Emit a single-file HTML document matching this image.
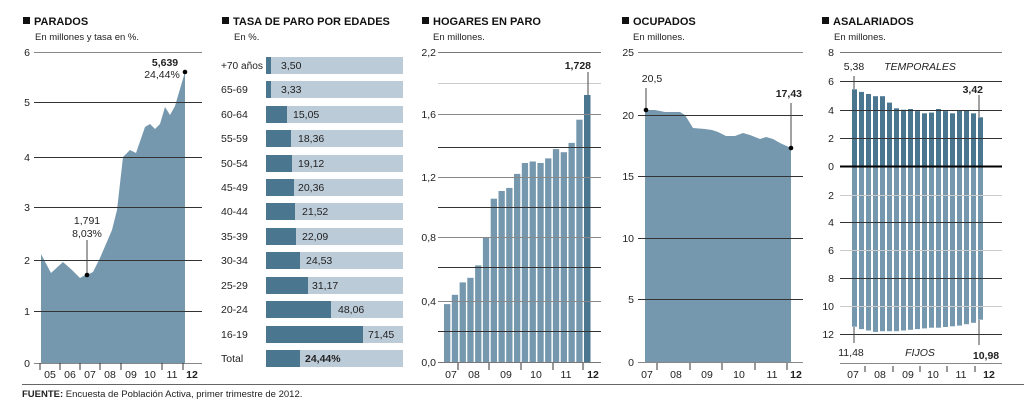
<!DOCTYPE html>
<html><head><meta charset="utf-8"><style>
html,body{margin:0;padding:0;background:#fff;}
svg{display:block;font-family:"Liberation Sans",sans-serif;}
.t{font-weight:bold;font-size:11px;fill:#111}
.s{font-size:9.5px;fill:#222}
.a{font-size:10.5px;fill:#222}
.b{font-weight:bold;}
</style></head><body>
<svg width="1024" height="403" viewBox="0 0 1024 403">
<!-- PARADOS -->
<rect x="23" y="17" width="7" height="7" fill="#111"/>
<text x="34" y="25" class="t">PARADOS</text>
<text x="35" y="40" class="s">En millones y tasa en %.</text>
<polygon fill="#7598ae" points="41,363 41,254 51,273 63,262 72,270 80,278 90,272 87,275 93,272 100,258 112,230 117,210 123,157 130,150 136,153 145,127 150,124 155,129 160,124 165,107 170,115 175,106 185,72 185,363"/>
<g stroke="#333" stroke-width="1">
<line x1="34" y1="52.5" x2="202" y2="52.5" stroke="#888"/>
<line x1="34" y1="102.5" x2="202" y2="102.5"/>
<line x1="34" y1="157.5" x2="202" y2="157.5"/>
<line x1="34" y1="207.5" x2="202" y2="207.5"/>
<line x1="34" y1="260.5" x2="202" y2="260.5"/>
<line x1="34" y1="311.5" x2="202" y2="311.5"/>
<line x1="34" y1="363.5" x2="202" y2="363.5" stroke="#888"/>
</g>
<g class="a" text-anchor="end"><text x="30" y="56">6</text><text x="30" y="106">5</text><text x="30" y="161">4</text><text x="30" y="211">3</text><text x="30" y="264">2</text><text x="30" y="315">1</text><text x="30" y="367">0</text></g>
<g stroke="#333"><line x1="40" y1="363" x2="40" y2="370"/><line x1="60" y1="363" x2="60" y2="370"/><line x1="80" y1="363" x2="80" y2="370"/><line x1="100" y1="363" x2="100" y2="370"/><line x1="121" y1="363" x2="121" y2="370"/><line x1="162" y1="363" x2="162" y2="370"/><line x1="183" y1="363" x2="183" y2="370"/></g>
<g class="a" text-anchor="middle"><text x="50" y="378">05</text><text x="70" y="378">06</text><text x="90" y="378">07</text><text x="110" y="378">08</text><text x="131" y="378">09</text><text x="150" y="378">10</text><text x="172" y="378">11</text><text x="192" y="378" class="b">12</text></g>
<line x1="87" y1="240" x2="87" y2="274" stroke="#444"/>
<circle cx="87" cy="275" r="2.3" fill="#000"/>
<circle cx="185" cy="72" r="2.3" fill="#000"/>
<text x="87" y="224" class="a" text-anchor="middle">1,791</text>
<text x="87" y="237" class="a" text-anchor="middle">8,03%</text>
<text x="165" y="66" class="a b" text-anchor="middle" font-size="11.5">5,639</text>
<text x="162" y="78" class="a" text-anchor="middle">24,44%</text>

<!-- TASA -->
<rect x="222" y="17" width="7" height="7" fill="#111"/>
<text x="233" y="25" class="t">TASA DE PARO POR EDADES</text>
<text x="234" y="40" class="s">En %.</text>
<g fill="#bccbd8">
<rect x="266" y="57" width="137" height="17"/><rect x="266" y="81" width="137" height="17"/><rect x="266" y="106" width="137" height="17"/><rect x="266" y="130" width="137" height="17"/><rect x="266" y="155" width="137" height="17"/><rect x="266" y="179" width="137" height="17"/><rect x="266" y="203" width="137" height="17"/><rect x="266" y="228" width="137" height="17"/><rect x="266" y="252" width="137" height="17"/><rect x="266" y="277" width="137" height="17"/><rect x="266" y="301" width="137" height="17"/><rect x="266" y="326" width="137" height="17"/><rect x="266" y="350" width="137" height="17"/>
</g>
<g fill="#4a7690">
<rect x="266" y="57" width="5" height="17"/><rect x="266" y="81" width="5" height="17"/><rect x="266" y="106" width="21" height="17"/><rect x="266" y="130" width="25" height="17"/><rect x="266" y="155" width="26" height="17"/><rect x="266" y="179" width="28" height="17"/><rect x="266" y="203" width="29" height="17"/><rect x="266" y="228" width="30" height="17"/><rect x="266" y="252" width="34" height="17"/><rect x="266" y="277" width="42" height="17"/><rect x="266" y="301" width="65" height="17"/><rect x="266" y="326" width="97" height="17"/><rect x="266" y="350" width="34" height="17"/>
</g>
<g class="a">
<text x="221" y="69" font-size="10" textLength="42" lengthAdjust="spacingAndGlyphs">+70 años</text><text x="221" y="93">65-69</text><text x="221" y="118">60-64</text><text x="221" y="142">55-59</text><text x="221" y="167">50-54</text><text x="221" y="191">45-49</text><text x="221" y="215">40-44</text><text x="221" y="240">35-39</text><text x="221" y="264">30-34</text><text x="221" y="289">25-29</text><text x="221" y="313">20-24</text><text x="221" y="338">16-19</text><text x="221" y="362">Total</text>
<text x="281" y="69">3,50</text><text x="281" y="93">3,33</text><text x="293" y="118">15,05</text><text x="298" y="142">18,36</text><text x="298" y="167">19,12</text><text x="298" y="191">20,36</text><text x="302" y="215">21,52</text><text x="302" y="240">22,09</text><text x="306" y="264">24,53</text><text x="312" y="289">31,17</text><text x="338" y="313">48,06</text><text x="368" y="338">71,45</text><text x="305" y="362" class="b">24,44%</text>
</g>

<!-- HOGARES -->
<rect x="422" y="17" width="7" height="7" fill="#111"/>
<text x="433" y="25" class="t">HOGARES EN PARO</text>
<text x="433" y="40" class="s">En millones.</text>
<g fill="#7598ae">
<rect x="444" y="304.1" width="6.3" height="58.9"/><rect x="451.8" y="294.8" width="6.3" height="68.2"/><rect x="459.6" y="282.4" width="6.3" height="80.6"/><rect x="467.3" y="277.8" width="6.3" height="85.2"/><rect x="475.1" y="265.4" width="6.3" height="97.6"/><rect x="482.9" y="237.5" width="6.3" height="125.5"/><rect x="490.7" y="198.7" width="6.3" height="164.3"/><rect x="498.5" y="191" width="6.3" height="172"/><rect x="506.2" y="187.9" width="6.3" height="175.1"/><rect x="514" y="173.9" width="6.3" height="189.1"/><rect x="521.8" y="163" width="6.3" height="200"/><rect x="529.6" y="161.5" width="6.3" height="201.5"/><rect x="537.4" y="163" width="6.3" height="200"/><rect x="545.1" y="158.4" width="6.3" height="204.6"/><rect x="552.9" y="149.1" width="6.3" height="213.9"/><rect x="560.7" y="152.2" width="6.3" height="210.8"/><rect x="568.5" y="142.9" width="6.3" height="220.1"/><rect x="576.3" y="119.7" width="6.3" height="243.3"/>
<rect x="584" y="95" width="6.5" height="268" fill="#4a7690"/>
</g>
<g stroke-width="1">
<line x1="438" y1="52.5" x2="601" y2="52.5" stroke="#777"/>
<line x1="438" y1="83.5" x2="601" y2="83.5" stroke="#ccc"/>
<line x1="438" y1="114.5" x2="601" y2="114.5" stroke="#888"/>
<line x1="438" y1="147.5" x2="601" y2="147.5" stroke="#333"/>
<line x1="438" y1="177.5" x2="601" y2="177.5" stroke="#888"/>
<line x1="438" y1="207.5" x2="601" y2="207.5" stroke="#333"/>
<line x1="438" y1="237.5" x2="601" y2="237.5" stroke="#888"/>
<line x1="438" y1="267.5" x2="601" y2="267.5" stroke="#333"/>
<line x1="438" y1="301.5" x2="601" y2="301.5" stroke="#888"/>
<line x1="438" y1="331.5" x2="601" y2="331.5" stroke="#333"/>
<line x1="438" y1="362.5" x2="601" y2="362.5" stroke="#777"/>
</g>
<line x1="588" y1="72" x2="588" y2="95" stroke="#444"/>
<g class="a" text-anchor="end"><text x="436" y="56">2,2</text><text x="436" y="118">1,6</text><text x="436" y="181">1,2</text><text x="436" y="241">0,8</text><text x="436" y="305">0,4</text><text x="436" y="366">0,0</text></g>
<g stroke="#333"><line x1="458" y1="363" x2="458" y2="370"/><line x1="489" y1="363" x2="489" y2="370"/><line x1="521" y1="363" x2="521" y2="370"/><line x1="553" y1="363" x2="553" y2="370"/><line x1="583" y1="363" x2="583" y2="370"/></g>
<g class="a" text-anchor="middle"><text x="451" y="378">07</text><text x="474" y="378">08</text><text x="506" y="378">09</text><text x="536" y="378">10</text><text x="566" y="378">11</text><text x="593" y="378" class="b">12</text></g>
<text x="591" y="69" class="a b" text-anchor="end" font-size="11.5">1,728</text>

<!-- OCUPADOS -->
<rect x="622" y="17" width="7" height="7" fill="#111"/>
<text x="633" y="25" class="t">OCUPADOS</text>
<text x="633" y="40" class="s">En millones.</text>
<polygon fill="#7598ae" points="645,363 645,110 655,110 665,112 678,112 680,112 685,115 693,128 705,129 712,130 718,132 726,136 735,136 743,133 750,135 760,139 766,137 773,139 780,143 791,148 791,363"/>
<g stroke="#333">
<line x1="638" y1="52.5" x2="803" y2="52.5" stroke="#888"/>
<line x1="638" y1="115.5" x2="803" y2="115.5"/>
<line x1="638" y1="176.5" x2="803" y2="176.5"/>
<line x1="638" y1="238.5" x2="803" y2="238.5"/>
<line x1="638" y1="299.5" x2="803" y2="299.5"/>
<line x1="638" y1="362.5" x2="803" y2="362.5" stroke="#888"/>
</g>
<g class="a" text-anchor="end"><text x="634" y="56">25</text><text x="634" y="119">20</text><text x="634" y="180">15</text><text x="634" y="242">10</text><text x="634" y="303">5</text><text x="634" y="366">0</text></g>
<g stroke="#333"><line x1="657" y1="363" x2="657" y2="370"/><line x1="690" y1="363" x2="690" y2="370"/><line x1="722" y1="363" x2="722" y2="370"/><line x1="755" y1="363" x2="755" y2="370"/><line x1="787" y1="363" x2="787" y2="370"/></g>
<g class="a" text-anchor="middle"><text x="647" y="378">07</text><text x="676" y="378">08</text><text x="707" y="378">09</text><text x="739" y="378">10</text><text x="772" y="378">11</text><text x="796" y="378" class="b">12</text></g>
<line x1="646" y1="88" x2="646" y2="109" stroke="#444"/>
<line x1="791" y1="103" x2="791" y2="147" stroke="#444"/>
<circle cx="646" cy="110" r="2.3" fill="#000"/>
<circle cx="791" cy="148" r="2.3" fill="#000"/>
<text x="652" y="82" class="a" text-anchor="middle">20,5</text>
<text x="802" y="97" class="a b" text-anchor="end" font-size="11.5">17,43</text>

<!-- ASALARIADOS -->
<rect x="822" y="17" width="7" height="7" fill="#111"/>
<text x="833" y="25" class="t">ASALARIADOS</text>
<text x="834" y="40" class="s">En millones.</text>
<g fill="#4a7690">
<rect x="852" y="89.3" width="5" height="76.7"/><rect x="859" y="91.9" width="5" height="74.1"/><rect x="866" y="94" width="5" height="72"/><rect x="873" y="96.2" width="5" height="69.8"/><rect x="880" y="96.2" width="5" height="69.8"/><rect x="887" y="102.6" width="5" height="63.4"/><rect x="894" y="108.3" width="5" height="57.7"/><rect x="901" y="109.7" width="5" height="56.3"/><rect x="908" y="109" width="5" height="57"/><rect x="915" y="111.1" width="5" height="54.9"/><rect x="922" y="113.3" width="5" height="52.7"/><rect x="929" y="112.6" width="5" height="53.4"/><rect x="936" y="109" width="5" height="57"/><rect x="943" y="111.1" width="5" height="54.9"/><rect x="950" y="113.3" width="5" height="52.7"/><rect x="957" y="110.4" width="5" height="55.6"/><rect x="964" y="110.4" width="5" height="55.6"/><rect x="971" y="113.3" width="5" height="52.7"/><rect x="978" y="117.3" width="5" height="48.7"/>
</g>
<g fill="#7598ae">
<rect x="852" y="166" width="5" height="160.7"/><rect x="859" y="166" width="5" height="163.1"/><rect x="866" y="166" width="5" height="164.5"/><rect x="873" y="166" width="5" height="165.9"/><rect x="880" y="166" width="5" height="165.2"/><rect x="887" y="166" width="5" height="165.2"/><rect x="894" y="166" width="5" height="165.2"/><rect x="901" y="166" width="5" height="164.5"/><rect x="908" y="166" width="5" height="163.8"/><rect x="915" y="166" width="5" height="163.1"/><rect x="922" y="166" width="5" height="162.4"/><rect x="929" y="166" width="5" height="161.7"/><rect x="936" y="166" width="5" height="161.7"/><rect x="943" y="166" width="5" height="161"/><rect x="950" y="166" width="5" height="160.3"/><rect x="957" y="166" width="5" height="159.6"/><rect x="964" y="166" width="5" height="158.2"/><rect x="971" y="166" width="5" height="156.8"/><rect x="978" y="166" width="5" height="153.7"/>
</g>
<g stroke="#333">
<line x1="840" y1="52.5" x2="1002" y2="52.5" stroke="#777"/>
<line x1="840" y1="81.5" x2="1002" y2="81.5"/>
<line x1="840" y1="110.5" x2="1002" y2="110.5"/>
<line x1="840" y1="138.5" x2="1002" y2="138.5"/>
<line x1="840" y1="195.5" x2="1002" y2="195.5" stroke="#ccc"/>
<line x1="840" y1="222.5" x2="1002" y2="222.5"/>
<line x1="840" y1="250.5" x2="1002" y2="250.5" stroke="#ccc"/>
<line x1="840" y1="278.5" x2="1002" y2="278.5"/>
<line x1="840" y1="306.5" x2="1002" y2="306.5" stroke="#ccc"/>
<line x1="840" y1="334.5" x2="1002" y2="334.5"/>
<line x1="840" y1="166.5" x2="1002" y2="166.5" stroke="#000" stroke-width="2"/>
</g>
<g class="a" text-anchor="end"><text x="834" y="56">8</text><text x="834" y="85">6</text><text x="834" y="114">4</text><text x="834" y="142">2</text><text x="834" y="170">0</text><text x="834" y="199">2</text><text x="834" y="226">4</text><text x="834" y="254">6</text><text x="834" y="282">8</text><text x="834" y="310">10</text><text x="834" y="338">12</text></g>
<line x1="854" y1="76" x2="854" y2="89" stroke="#444"/>
<line x1="979" y1="95" x2="979" y2="117" stroke="#444"/>
<line x1="854" y1="327" x2="854" y2="343" stroke="#444"/>
<line x1="979" y1="320" x2="979" y2="345" stroke="#444"/>
<text x="854" y="70" class="a" text-anchor="middle">5,38</text>
<text x="920" y="70" class="a" text-anchor="middle" font-style="italic">TEMPORALES</text>
<text x="983" y="93" class="a b" text-anchor="end" font-size="11.5">3,42</text>
<text x="851" y="356" class="a" text-anchor="middle">11,48</text>
<text x="920" y="356" class="a" text-anchor="middle" font-style="italic">FIJOS</text>
<text x="986" y="359" class="a b" text-anchor="middle" font-size="11.5">10,98</text>
<line x1="840" y1="363.5" x2="1002" y2="363.5" stroke="#888"/>
<g stroke="#333"><line x1="865" y1="366" x2="865" y2="372"/><line x1="893" y1="366" x2="893" y2="372"/><line x1="920" y1="366" x2="920" y2="372"/><line x1="947" y1="366" x2="947" y2="372"/><line x1="975" y1="366" x2="975" y2="372"/></g>
<g class="a" text-anchor="middle"><text x="853" y="378">07</text><text x="880" y="378">08</text><text x="908" y="378">09</text><text x="933" y="378">10</text><text x="961" y="378">11</text><text x="989" y="378" class="b">12</text></g>

<line x1="22" y1="384.5" x2="1024" y2="384.5" stroke="#666"/>
<text x="22" y="397" font-size="9.5" fill="#222"><tspan font-weight="bold">FUENTE:</tspan> Encuesta de Población Activa, primer trimestre de 2012.</text>
</svg>
</body></html>
